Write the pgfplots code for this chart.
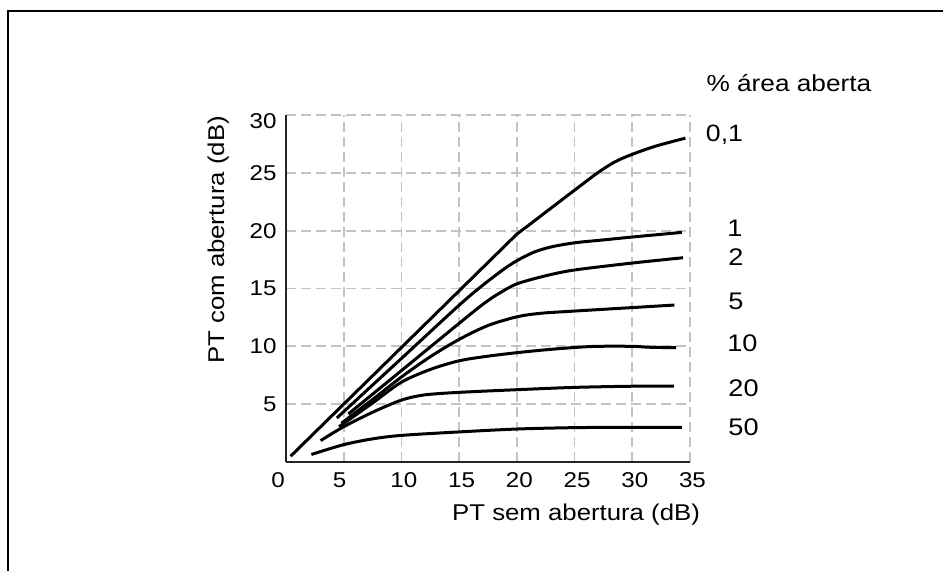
\documentclass[border=0pt]{standalone}
\usepackage{fontspec}
\setmainfont{Liberation Sans}[FakeStretch=1.13]
\usepackage{pgfplots}
\pgfplotsset{compat=1.18}
\begin{document}
\begin{tikzpicture}
\useasboundingbox (0,0) rectangle (471.5pt,285.5pt);
\draw[line width=1pt] (3.75pt,0) -- (3.75pt,279.75pt) -- (471.5pt,279.75pt);
\begin{axis}[
  at={(143pt,54.5pt)}, anchor=south west,
  scale only axis, width=202pt, height=173.5pt,
  xmin=0, xmax=35, ymin=0, ymax=30,
  axis x line*=bottom, axis y line*=left,
  axis line style={-, line width=0.9pt, black!85},
  every outer x axis line/.append style={-},
  every outer y axis line/.append style={-},
  xtick={0,5,10,15,20,25,30,35}, ytick={5,10,15,20,25,30},
  xticklabels={0\kern8pt, 5\kern4pt, \kern2.5pt10, \kern2.5pt15, \kern2.5pt20, \kern2.5pt25, \kern2.5pt30, \kern2.5pt35},
  yticklabels={5,10,15,20,25,\raisebox{-2.85pt}[\height][0pt]{30}},
  major tick length=0pt,
  grid=major,
  major grid style={dash pattern=on 5pt off 2.5pt, line width=0.85pt, color={rgb,255:red,195;green,195;blue,195}},
  tick label style={font=\fontsize{10.7}{12}\selectfont, inner sep=0pt},
  xticklabel style={anchor=north, yshift=-5pt},
  yticklabel style={anchor=east, xshift=-4.5pt},
  xlabel={PT sem abertura (dB)}, ylabel={PT com abertura (dB)},
  label style={font=\fontsize{11.4}{13}\selectfont, inner sep=0pt},
  x label style={at={(axis cs:25.13,-5.08)}, anchor=base},
  y label style={at={(axis cs:-5.37,19.19)}, anchor=base},
  clip=false,
  curve/.style={black, solid, line width=1.5pt, smooth, tension=0.5, mark=none},
]
% 0,1 %
\addplot[curve] coordinates {(0.4,0.5) (10,9.9) (15,14.8) (19.5,19.21) (20,19.7) (21,20.45) (22.5,21.6) (25,23.5) (27,25.0) (28.5,25.95) (30,26.6) (32,27.3) (34.6,28.0)};
% 1 %
\addplot[curve] coordinates {(4.4,3.8) (10,8.95) (15.5,14.0) (18.5,16.4) (20,17.4) (21.5,18.15) (23,18.6) (25,18.95) (27.5,19.2) (30,19.45) (34.3,19.85)};
% 2 %
\addplot[curve] coordinates {(5.4,4.15) (10,7.9) (16,12.8) (17.5,13.95) (18.5,14.6) (20,15.4) (22.5,16.1) (25,16.6) (30,17.2) (34.4,17.66)};
% 5 %
\addplot[curve] coordinates {(4.8,3.35) (7.5,5.4) (10,7.35) (12.5,9.1) (15,10.6) (17.5,11.8) (20,12.55) (22,12.85) (25,13.05) (30,13.35) (33.65,13.57)};
% 10 %
\addplot[curve] coordinates {(4.6,3.05) (7.5,5.1) (10,6.9) (12.5,8.0) (15,8.75) (17.5,9.15) (20,9.45) (22.5,9.7) (25,9.9) (27,10.0) (30,10.0) (31.5,9.92) (33.8,9.88)};
% 20 %
\addplot[curve] coordinates {(3.0,1.85) (5,3.05) (7.5,4.3) (10,5.35) (12,5.8) (15,6.02) (20,6.25) (25,6.45) (30,6.55) (33.6,6.55)};
% 50 %
\addplot[curve] coordinates {(2.2,0.65) (5,1.5) (7.5,2.0) (10,2.3) (15,2.6) (20,2.85) (25,2.97) (30,3.0) (34.3,3.0)};
\node[anchor=base west, inner sep=0pt, font=\fontsize{11.6}{13}\selectfont] at (axis cs:36.4,32.07) {\% área aberta};
\node[anchor=base west, inner sep=0pt, font=\fontsize{11.8}{13}\selectfont] at (axis cs:36.35,27.68) {0,1};
\begin{scope}[every node/.style={anchor=base west, inner sep=0pt, font=\fontsize{12}{14}\selectfont}]
\node at (axis cs:38.2,19.47) {1};
\node at (axis cs:38.3,16.97) {2};
\node at (axis cs:38.3,13.2) {5};
\node at (axis cs:38.2,9.53) {10};
\node at (axis cs:38.3,5.7) {20};
\node at (axis cs:38.3,2.25) {50};
\end{scope}
\end{axis}
\end{tikzpicture}
\end{document}
